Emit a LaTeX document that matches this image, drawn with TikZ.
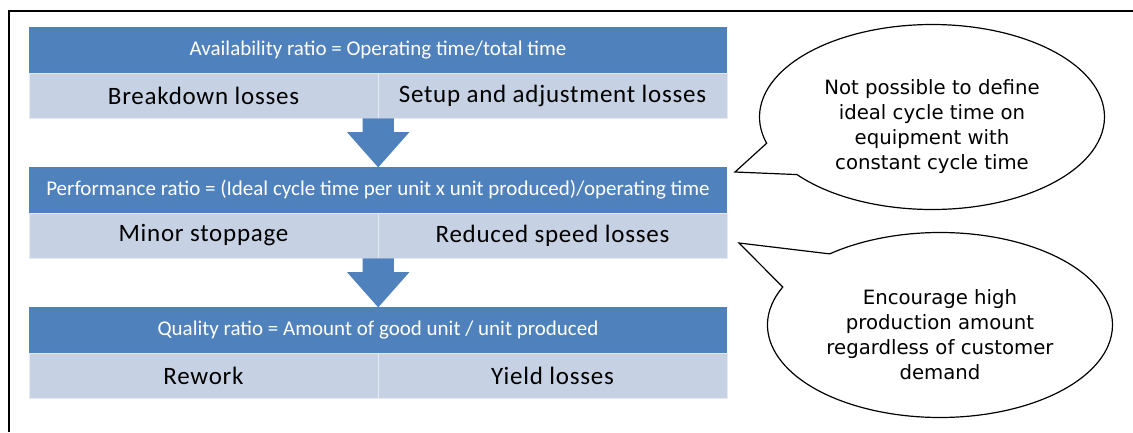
\documentclass[tikz,border=0pt]{standalone}
\usepackage{fontspec}
\setmainfont{Carlito}
\newfontfamily\lossfont[LetterSpace=3]{Carlito}
\newfontfamily\notefont{DejaVu Sans}
\usetikzlibrary{shapes.arrows,shapes.callouts}
\definecolor{barblue}{RGB}{79,129,189}
\definecolor{rowblue}{RGB}{198,209,228}

\begin{document}
\begin{tikzpicture}[x=1pt, y=1pt]
            % Define styles
            \tikzstyle{ratio} = [rectangle, minimum width=698pt, minimum height=46pt, inner sep=0pt, fill=barblue, text=white, font=\fontsize{21}{24}\selectfont]
            \tikzstyle{loss} = [rectangle, minimum width=349pt, minimum height=45pt, inner sep=0pt, fill=rowblue, draw=white!55!rowblue, font=\lossfont\fontsize{25}{30}\selectfont]
            \tikzstyle{flow} = [single arrow, fill=barblue, minimum height=49pt, single arrow head extend=15.5pt, single arrow tip angle=83, inner xsep=0pt, inner ysep=15.5pt, rotate=-90, anchor=tail]
            \tikzstyle{note} = [ellipse callout, draw=black, line width=1.2pt, fill=white, minimum width=345pt, minimum height=185pt, inner sep=0pt, align=center, callout pointer arc=22, font=\notefont\fontsize{19.7}{25}\selectfont]

            \useasboundingbox (0,0) rectangle (1133,-432);
            \draw [line width=2.5pt] (9,-432) -- (9,-11) -- (1133,-11);

            % Availability
            \node (avail) [ratio] at (378,-50) {Availability ratio = Operating time/total time};
            \node (brk) [loss] at (203.5,-95.5) {Breakdown losses};
            \node (setup) [loss] at (552.5,-95.5) {Setup and adjustment losses};

            % Performance
            \node (perf) [ratio] at (378,-190) {Performance ratio = (Ideal cycle time per unit x unit produced)/operating time};
            \node (minor) [loss] at (203.5,-235.5) {Minor stoppage};
            \node (speed) [loss] at (552.5,-235.5) {Reduced speed losses};

            % Quality
            \node (qual) [ratio] at (378,-330) {Quality ratio = Amount of good unit / unit produced};
            \node (rework) [loss] at (203.5,-375.5) {Rework};
            \node (yield) [loss] at (552.5,-375.5) {Yield losses};

            % Block arrows between the ratios
            \node (down1) [flow] at (brk.south east) {};
            \node (down2) [flow] at (minor.south east) {};

            % Callouts
            \coordinate (tip1) at (735,-172);
            \coordinate (tip2) at (739,-243);
            \node (note1) [note, callout absolute pointer={(tip1)}] at (932,-117) {\rule{0pt}{35pt}Not possible to define\\ideal cycle time on\\equipment with\\constant cycle time};
            \node (note2) [note, callout absolute pointer={(tip2)}, callout pointer arc=26] at (940,-325) {\rule{0pt}{35pt}Encourage high\\production amount\\regardless of customer\\demand};
        \end{tikzpicture}
\end{document}
